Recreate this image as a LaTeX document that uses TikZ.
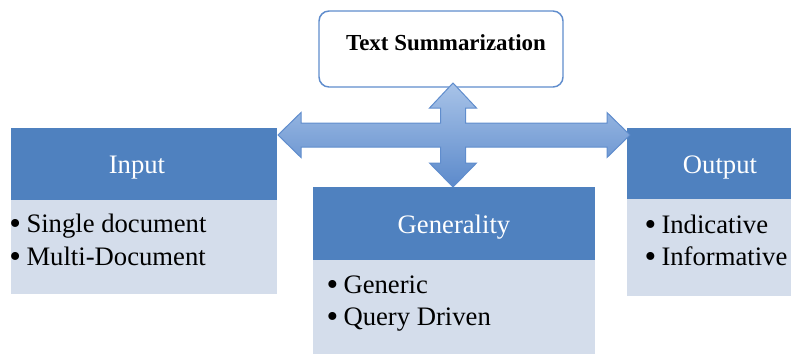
\documentclass[tikz,border=0pt]{standalone}
\usepackage{fontspec}
\setmainfont{Liberation Serif}

\definecolor{hdrblue}{RGB}{79,129,191}
\definecolor{bodyblue}{RGB}{212,221,235}
\definecolor{edgeblue}{RGB}{96,141,205}

\tikzset{every picture/.style={line width=0.75pt}}
\tikzset{
  hdrtext/.style={anchor=base, inner sep=0.75pt, text=white, font=\fontsize{20}{24}\selectfont},
  itemtext/.style={anchor=base west, inner sep=0pt, font=\fontsize{20}{24}\selectfont},
  bodybox/.style={draw=none, fill=bodyblue},
  hdrbox/.style={draw=none, fill=hdrblue}
}
\newcommand{\itm}[1]{\raisebox{-1.6pt}{\fontsize{25}{24}\selectfont\textbullet}\hspace{4pt}#1}

\begin{document}
\begin{tikzpicture}[x=0.75pt,y=0.75pt,yscale=-1,xscale=1]
\path [use as bounding box] (0,0) rectangle (791,354);

%Shape: Rectangle [input]
\draw [bodybox] (11,199) rectangle (277,294) ;
\draw [hdrbox] (11,128) rectangle (277,200) ;
%Shape: Rectangle [generality]
\draw [bodybox] (313,259) rectangle (595,354) ;
\draw [hdrbox] (313,187) rectangle (595,260) ;
%Shape: Rectangle [output]
\draw [bodybox] (627,198) rectangle (791,296) ;
\draw [hdrbox] (627,128) rectangle (791,199) ;

%Shape: Rounded Rectangle [title]
\draw [color=edgeblue, line width=1.1pt, fill=white, rounded corners=7.5pt] (319,11) rectangle (563,87) ;

%Shape: Cross Arrow
\draw [color=edgeblue, top color={rgb,255:red,168;green,195;blue,232}, bottom color={rgb,255:red,92;green,138;blue,203}]
  (278,135) -- (301,112.5) -- (301,123) -- (440.5,123) -- (440.5,108) -- (429.5,108) -- (453,83)
  -- (476.5,108) -- (465.5,108) -- (465.5,123) -- (607,123) -- (607,112.5) -- (630,135)
  -- (607,157.5) -- (607,147) -- (465.5,147) -- (465.5,163) -- (476.5,163) -- (453,187)
  -- (429.5,163) -- (440.5,163) -- (440.5,147) -- (301,147) -- (301,157.5) -- cycle ;

% Text Node
\node (title) at (446,50) [anchor=base, inner sep=0.75pt, font=\fontsize{17.2}{20}\selectfont\bfseries] {Text Summarization};
% Text Node
\node (inputhd) at (137,173) [hdrtext] {Input};
\node (inputa) at (9,232) [itemtext] {\itm{Single document}};
\node (inputb) at (9,265) [itemtext] {\itm{Multi-Document}};
% Text Node
\node (genhd) at (454,233) [hdrtext] {Generality};
\node (gena) at (326,293) [itemtext] {\itm{Generic}};
\node (genb) at (326,325) [itemtext] {\itm{Query Driven}};
% Text Node
\node (outhd) at (720,173) [hdrtext] {Output};
\node (outa) at (644,233) [itemtext] {\itm{Indicative}};
\node (outb) at (644,265) [itemtext] {\itm{Informative}};

\end{tikzpicture}
\end{document}
